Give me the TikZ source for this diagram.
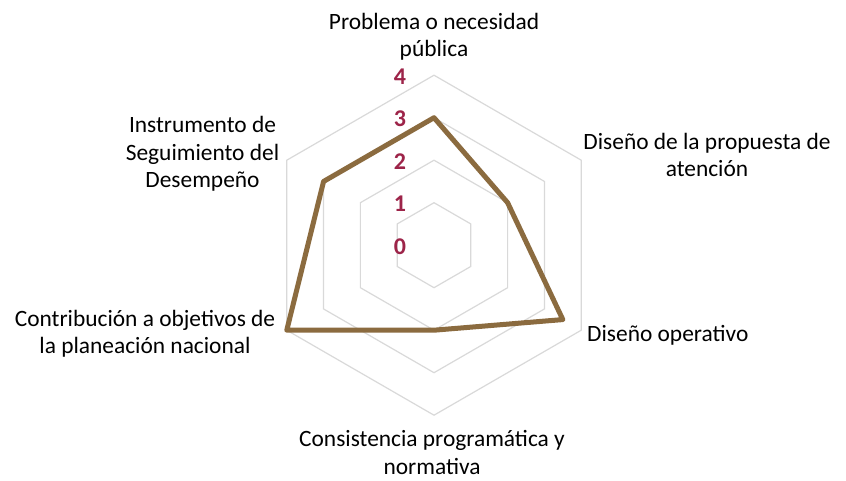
\documentclass[tikz,border=0pt]{standalone}
\usepackage{fontspec}
\setmainfont{Carlito}
\definecolor{gridgray}{HTML}{D9D9D9}
\definecolor{seriebrown}{HTML}{8B6B3F}
\definecolor{guinda}{HTML}{9D2449}
\begin{document}
\begin{tikzpicture}[x=1pt,y=-1pt,
  gridline/.style={draw=gridgray,line width=1.2pt},
  serieline/.style={draw=seriebrown,line width=5pt,line join=round},
  axislabel/.style={font=\fontsize{23.4}{27.2}\selectfont,align=center,inner sep=0pt,text=black},
  ticklabel/.style={font=\fontsize{24}{24}\selectfont\bfseries,text=guinda,inner sep=0pt}]
\useasboundingbox[fill=white] (0,0) rectangle (846,481);
\coordinate (O) at (434,245.2);
\begin{scope}[shift={(O)}]
  \foreach \v in {1,2,3,4}{
    \draw[gridline] (-90:42.5*\v) -- (-30:42.5*\v) -- (30:42.5*\v) -- (90:42.5*\v) -- (150:42.5*\v) -- (210:42.5*\v) -- cycle;
  }
  \coordinate (p1) at (-90:127.5);
  \coordinate (p2) at (-30:85);
  \coordinate (p3) at (30:148.75);
  \coordinate (p4) at (90:85);
  \coordinate (p5) at (150:170);
  \coordinate (p6) at (210:127.5);
  \draw[serieline] (p1) -- (p2) -- (p3) -- (p4) -- (p5) -- (p6) -- cycle;
\end{scope}
\foreach \v/\y in {0/246.7,1/204.2,2/161.7,3/119.2,4/76.7}{
  \node[ticklabel] (t\v) at (400,\y) {\v};
}
\node[axislabel,anchor=base] (a1) at (434,56.7) {Problema o necesidad\\pública};
\node[axislabel,anchor=base] (a2) at (707,176.7) {Diseño de la propuesta de\\atención};
\node[axislabel,anchor=base west] (a3) at (587,341.7) {Diseño operativo};
\node[axislabel,anchor=base] (a4) at (432,474) {Consistencia programática y\\normativa};
\node[axislabel,anchor=base] (a5) at (145,353.3) {Contribución a objetivos de\\la planeación nacional};
\node[axislabel,anchor=base] (a6) at (202.5,187.3) {Instrumento de\\Seguimiento del\\Desempeño};
\end{tikzpicture}
\end{document}
